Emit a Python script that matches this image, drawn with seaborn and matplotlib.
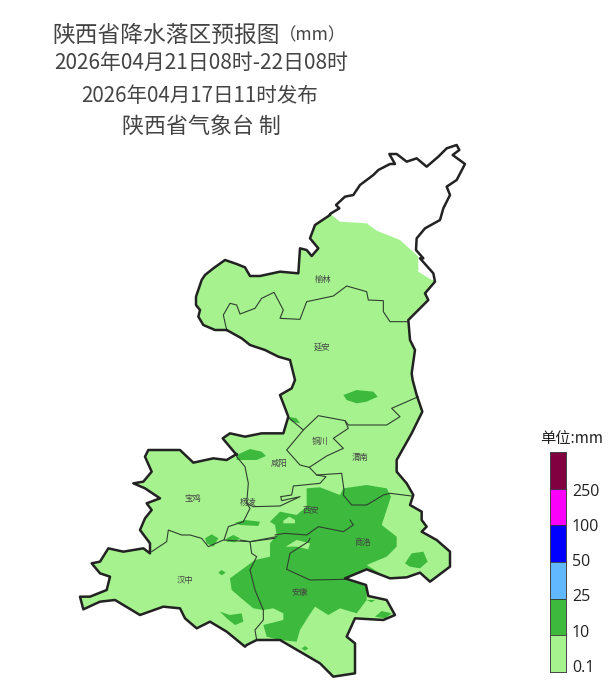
import numpy as np
import matplotlib
matplotlib.use("Agg")
import matplotlib.pyplot as plt
from matplotlib.colors import ListedColormap
from matplotlib.path import Path
from matplotlib.patches import PathPatch
import seaborn as sns

sns.set_theme(style="white")
plt.rcParams['font.family'] = ['Noto Sans CJK SC', 'DejaVu Sans']

# Province outline, clockwise, traced in several 3x crops of the map
# each segment: (crop origin x, crop origin y, points)
outline_nw = (190,210,[(110,360),(75,360),(40,345),(25,320),(30,300),(18,285),(18,260),(35,210),(45,195),(70,175),(105,150),(140,162),(165,172),(180,198),(210,198),(270,185),(325,190),(330,115),(350,120),(365,138),(385,115),(360,85),(375,45),(420,15)])
outline_n = (300,140,[(90,222),(118,205),(108,195),(135,170),(160,165),(180,135),(220,105),(235,90),(270,72),(285,72),(268,42),(290,42),(320,65),(350,55),(380,80),(415,50),(440,25),(470,15),(478,30),(458,45),(495,72),(470,120),(440,140),(450,165),(430,205),(420,240),(375,265),(350,295),(348,330),(370,355)])
outline_ne = (80,140,[(1020,355),(1060,400),(1065,425),(1035,460),(1045,480),(985,540),(990,600),(1005,630),(995,700)])
outline_e = (220,380,[(578,0),(590,45),(607,95),(575,160),(530,240),(530,275),(560,310),(580,345),(570,375),(605,395)])
outline_se = (240,520,[(545,0),(560,20),(545,35),(590,60),(630,95),(630,140),(570,185),(540,158),(500,172),(450,175),(380,148),(315,175),(378,195),(385,228),(440,240),(465,285),(430,300),(345,295),(320,350),(345,370),(345,460),(280,470),(240,430),(120,360),(50,360),(20,375)])
outline_s = (80,400,[(495,740),(440,695),(390,665),(350,685),(315,655),(300,625),(250,620),(180,645),(105,600),(60,605),(10,628),(0,590)])
outline_w = (80,440,[(30,470),(80,450),(90,410),(60,400),(35,370),(60,365),(85,325),(130,335),(190,325),(210,340),(210,310),(180,270),(195,235),(215,210),(200,190),(240,175),(195,145),(160,130),(190,125),(215,95),(195,50),(205,30),(300,30),(340,68),(400,55),(440,60),(470,42)])
outline_c = (220,380,[(50,225),(8,175),(30,160),(75,170),(125,160),(190,160),(205,110),(180,45),(215,25),(225,0)])
outline_wc = (190,210,[(300,450),(265,440),(225,420),(180,405),(155,385),(110,360)])

# Internal borders
border_yulin = (190,210,[(110,360),(100,315),(120,280),(140,285),(150,312),(195,295),(215,265),(252,247),(280,300),(270,325),(330,328),(350,275),(430,258),(470,228),(530,245),(535,270),(580,272),(580,305),(600,335),(655,335)])
border_yanan = (220,380,[(208,115),(250,150),(295,107),(375,122),(385,135),(500,135),(540,110),(515,85),(595,50)])
border_tongchuan = (220,380,[(250,150),(200,210),(240,255),(268,262),(320,228),(370,205),(340,175),(385,145),(375,122)])
border_weinan = (220,380,[(268,262),(290,285),(365,280),(372,330),(370,345),(395,375),(440,375),(490,345),(510,340),(575,348)])
border_xianyang = (220,380,[(290,285),(318,290),(300,310),(220,318),(215,345),(182,350),(185,362),(240,350),(180,378),(100,380),(80,370)])
border_baoji = (80,440,[(470,50),(495,80),(505,130),(500,190),(510,205),(490,245),(445,260),(432,300)])
border_qinling = (80,440,[(215,335),(260,305),(265,270),(305,285),(330,285),(365,295),(385,320),(430,300),(510,305),(590,290)])
border_xian = (240,520,[(105,45),(135,40),(200,45),(235,20),(310,35),(340,15),(330,0)])
border_hanzhong = (240,520,[(0,60),(30,65),(35,100),(50,110),(30,150),(45,210),(70,270),(70,300),(45,330),(50,360)])
border_ankang = (240,520,[(210,55),(205,65),(150,100),(140,148),(210,180),(315,178)])
border_link = (240,520,[(30,65),(105,55)])
all_borders = [border_yulin,border_yanan,border_tongchuan,border_weinan,border_xianyang,border_baoji,border_qinling,border_xian,border_hanzhong,border_ankang,border_link]

# Rain areas
light_north_edge = (80,140,[(755,225),(780,245),(860,250),(890,272),(960,300),(1015,350),(1015,395),(1055,420)])
dark_main = (80,400,[(680,265),(720,262),(780,285),(790,265),(860,255),(920,265),(933,290),(905,375),(950,410),(950,440),(920,470),(860,495),(900,520),(870,510),(800,535),(860,560),(860,600),(830,640),(780,625),(745,645),(705,620),(685,650),(660,690),(650,725),(600,720),(560,710),(550,675),(610,660),(610,640),(580,625),(550,630),(520,625),(490,600),(455,570),(450,535),(525,480),(570,470),(570,430),(590,405),(585,375),(570,365),(600,335),(650,345),(680,320)])
light_hole_a = (80,400,[(610,362),(628,350),(645,360),(645,370),(610,370)])
light_hole_b = (80,400,[(617,440),(650,420),(690,430),(685,448),(650,440)])
dark_spots = [
    (80,400,[(470,165),(510,147),(545,155),(558,168),(530,180),(470,180)]),
    (80,400,[(625,50),(650,55),(660,70),(635,65)]),
    (80,400,[(465,368),(495,360),(540,365),(535,378),(480,375)]),
    (80,400,[(375,415),(395,403),(415,415),(400,440),(380,430)]),
    (80,400,[(440,415),(460,405),(480,415),(465,427),(440,425)]),
    (80,400,[(415,518),(425,510),(437,518),(425,526)]),
    (80,400,[(420,635),(450,645),(485,640),(490,665),(465,675),(440,655)]),
    (80,400,[(975,490),(995,460),(1030,455),(1043,485),(1020,505),(990,500)]),
    (80,400,[(885,650),(905,633),(935,640),(915,655)]),
    (80,400,[(665,745),(675,738),(685,745),(675,752)]),
    (80,400,[(860,600),(885,600),(875,607)]),
    (80,140,[(790,765),(830,750),(880,755),(893,770),(860,785),(830,790),(800,780)]),
]

cities = ["榆林","延安","铜川","渭南","咸阳","宝鸡","杨凌","西安","商洛","汉中","安康"]
city_x = [323,322,320,360,279,193,248,311,363,185,300]
city_y = [279,347,441,457,463,498,502,511,542,581,592]

legend_labels = ["0.1","10","25","50","100","250"]
legend_colors = ["#800040","#fa00fa","#0000ff","#61b8ff","#3dba3d","#a6f28f"]

titles = ["陕西省降水落区预报图","（mm）","2026年04月21日08时-22日08时","2026年04月17日11时发布","陕西省气象台 制"]
title_x = [166,313,201,200,201]
title_y = [35,35,63,96,127]
title_size = [16.4,12.5,15,14.8,15.8]

def px(seg):
    x0,y0,pts = seg
    return [(x0+x/3, y0+y/3) for x,y in pts]

fig = plt.figure(figsize=(6.11,6.93), dpi=100)
ax = fig.add_axes([0,0,1,1])
ax.set_xlim(0,611); ax.set_ylim(693,0); ax.axis("off")

outline = []
for seg in [outline_nw,outline_n,outline_ne,outline_e,outline_se,outline_s,outline_w,outline_c,outline_wc]:
    outline += px(seg)
clip = PathPatch(Path(outline+[outline[0]]), transform=ax.transData, fc="none", ec="none")
ax.add_patch(clip)

LIGHT, DARK = legend_colors[5], legend_colors[4]
edge = px(light_north_edge)
rain = [(0,edge[0][1])]+edge+[(611,edge[-1][1]),(611,693),(0,693)]
p, = ax.fill(*zip(*rain), color=LIGHT, lw=0, zorder=1)
p.set_clip_path(clip)
for s in [dark_main]+dark_spots:
    q, = ax.fill(*zip(*px(s)), color=DARK, lw=0, zorder=2)
    q.set_clip_path(clip)
for s in [light_hole_a, light_hole_b]:
    ax.fill(*zip(*px(s)), color=LIGHT, lw=0, zorder=3)

for b in all_borders:
    ax.plot(*zip(*px(b)), color="#2f3f2f", lw=0.8, zorder=4)
ax.plot(*zip(*(outline+[outline[0]])), color="#222222", lw=1.8, zorder=5, solid_joinstyle="round")

for c,x,y in zip(cities,city_x,city_y):
    ax.text(x,y,c,fontsize=6,color="#444444",ha="center",va="center",zorder=6)
for t,x,y,fs in zip(titles,title_x,title_y,title_size):
    ax.text(x,y,t,fontsize=fs,color="#444444",ha="center",va="center")

# legend
cax = fig.add_axes([550/611, 1-672/693, 16/611, 220/693])
vals = np.arange(6).reshape(-1,1)
sns.heatmap(vals, ax=cax, cmap=ListedColormap(legend_colors), cbar=False,
            xticklabels=False, yticklabels=False, linewidths=0)
cax.hlines(np.arange(1,6), 0, 1, color="#333333", lw=0.6)
for s in cax.spines.values():
    s.set_visible(True); s.set_color("#444444"); s.set_linewidth(0.7)
lab_y = [668,633,597,562,527,492]
for l,y in zip(legend_labels,lab_y):
    ax.text(572,y,l,fontsize=11.5,color="#222222",ha="left",va="center",family=['Open Sans'])
ax.text(572,439,"单位:mm",fontsize=11,color="#222222",ha="center",va="center")
fig.savefig("out.png", dpi=100)
